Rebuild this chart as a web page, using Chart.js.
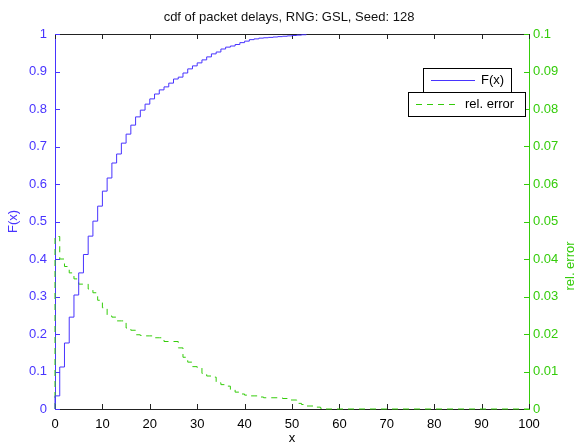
<!DOCTYPE html>
<html>
<head>
<meta charset="utf-8">
<script src="https://cdn.jsdelivr.net/npm/chart.js@4.4.0/dist/chart.umd.min.js"></script>
<style>
  body { margin: 0; background: #fff; }
  canvas { display: block; }
</style>
</head>
<body>
<canvas id="myChart" width="578" height="446"></canvas>
<script>
// values (stairs: value holds from x until the next x)
var cdfX = [0, 0, 1, 2, 3, 4, 5, 6, 7, 8, 9, 10, 11, 12, 13, 14, 15, 16, 17, 18, 19, 20,
  21, 22, 23, 24, 25, 26, 27, 28, 29, 30, 31, 32, 33, 34, 35, 36, 37, 38, 39, 40,
  41, 42, 43, 44, 45, 46, 47, 48, 49, 50, 51, 52, 53];
var cdfF = [0, 0.035, 0.112, 0.176, 0.245, 0.304, 0.363, 0.412, 0.461, 0.501, 0.541, 0.581,
  0.616, 0.656, 0.68, 0.709, 0.733, 0.757, 0.779, 0.797, 0.813, 0.827,
  0.84, 0.851, 0.859, 0.869, 0.88, 0.885, 0.896, 0.907, 0.915, 0.923,
  0.931, 0.939, 0.947, 0.952, 0.96, 0.965, 0.968, 0.972, 0.977, 0.981,
  0.985, 0.987, 0.989, 0.99, 0.991, 0.992, 0.993, 0.994, 0.995, 0.996, 0.997, 0.998, 0.999];

var errX = [0, 0, 1, 2, 3, 4, 5, 6, 7, 8, 9, 10, 11, 12, 13, 14, 15, 16, 17, 18, 19, 20,
  21, 22, 23, 24, 25, 26, 27, 28, 29, 30, 31, 32, 33, 34, 35, 36, 37, 38, 39, 40,
  41, 42, 43, 44, 45, 46, 47, 48, 49, 50, 51, 52, 53, 54, 55, 56, 57, 100];
var errY = [0, 0.046, 0.040, 0.038, 0.0363, 0.0347, 0.0333, 0.0333, 0.032, 0.031, 0.029, 0.027,
  0.0248, 0.0245, 0.0235, 0.0235, 0.0216, 0.021, 0.0198, 0.0196, 0.0195, 0.0195,
  0.019, 0.019, 0.018, 0.018, 0.018, 0.0163, 0.0138, 0.0125, 0.0113, 0.011,
  0.0095, 0.0088, 0.0085, 0.007, 0.0065, 0.0061, 0.0052, 0.0045, 0.004, 0.0037,
  0.0035, 0.0035, 0.0032, 0.003, 0.003, 0.003, 0.003, 0.0028, 0.0024, 0.0024,
  0.0015, 0.0012, 0.0008, 0.0008, 0.0005, 0.0002, 0, 0];

var xTicks = [0, 10, 20, 30, 40, 50, 60, 70, 80, 90, 100];

var blue = 'rgb(72,52,255)';
var green = 'rgb(52,204,10)';
var dark = '#222';

function pts(xs, ys) {
  return xs.map(function (x, i) { return { x: x, y: ys[i] }; });
}

Chart.defaults.font.family = '"Liberation Sans", Arial, sans-serif';
Chart.defaults.font.size = 13;

// matlab style ticks pointing into the box, plus top border + right label
var boxTicks = {
  id: 'boxTicks',
  beforeDatasetsDraw: function (chart) {
    var ctx = chart.ctx, a = chart.chartArea;
    var sx = chart.scales.x, sy = chart.scales.y, sy2 = chart.scales.y2;
    ctx.save();
    ctx.lineWidth = 1;
    ctx.strokeStyle = dark;
    ctx.beginPath();
    ctx.moveTo(a.left, a.top + 0.5);
    ctx.lineTo(a.right, a.top + 0.5);
    sx.ticks.forEach(function (t) {
      var px = Math.round(sx.getPixelForValue(t.value)) + 0.5;
      ctx.moveTo(px, a.bottom);
      ctx.lineTo(px, a.bottom - 5);
      ctx.moveTo(px, a.top);
      ctx.lineTo(px, a.top + 5);
    });
    ctx.stroke();
    ctx.strokeStyle = blue;
    ctx.beginPath();
    sy.ticks.forEach(function (t) {
      var py = Math.round(sy.getPixelForValue(t.value)) + 0.5;
      ctx.moveTo(a.left, py);
      ctx.lineTo(a.left + 5, py);
    });
    ctx.stroke();
    ctx.strokeStyle = green;
    ctx.beginPath();
    sy2.ticks.forEach(function (t) {
      var py = Math.round(sy2.getPixelForValue(t.value)) + 0.5;
      ctx.moveTo(a.right, py);
      ctx.lineTo(a.right - 5, py);
    });
    ctx.stroke();
    ctx.restore();
  },
  afterDraw: function (chart) {
    var ctx = chart.ctx;
    ctx.save();
    ctx.fillStyle = green;
    ctx.font = '13px "Liberation Sans", Arial, sans-serif';
    ctx.textAlign = 'center';
    ctx.textBaseline = 'middle';
    ctx.translate(570, 266);
    ctx.rotate(-Math.PI / 2);
    ctx.fillText('rel. error', 0, 0);
    ctx.restore();
  }
};

// the two stacked legend boxes
var boxLegend = {
  id: 'boxLegend',
  afterDraw: function (chart) {
    var ctx = chart.ctx;
    var ds = chart.data.datasets;
    var boxes = [
      { x: 423, y: 68, w: 88, h: 24, lx1: 431, lx2: 475, tx: 481 },
      { x: 408, y: 92, w: 117, h: 24, lx1: 416, lx2: 457, tx: 465 }
    ];
    ctx.save();
    ctx.font = '13px "Liberation Sans", Arial, sans-serif';
    ctx.textBaseline = 'middle';
    boxes.forEach(function (b, i) {
      ctx.fillStyle = '#fff';
      ctx.fillRect(b.x, b.y, b.w, b.h);
      ctx.strokeStyle = '#000';
      ctx.lineWidth = 1;
      ctx.setLineDash([]);
      ctx.strokeRect(b.x + 0.5, b.y + 0.5, b.w, b.h);
      var cy = Math.round(b.y + b.h / 2) + 0.5;
      ctx.strokeStyle = ds[i].borderColor;
      ctx.setLineDash(ds[i].borderDash || []);
      ctx.beginPath();
      ctx.moveTo(b.lx1, cy);
      ctx.lineTo(b.lx2, cy);
      ctx.stroke();
      ctx.fillStyle = '#000';
      ctx.fillText(ds[i].label, b.tx, cy);
    });
    ctx.restore();
  }
};

var ctx = document.getElementById('myChart').getContext('2d');
var chart = new Chart(ctx, {
  type: 'line',
  data: {
    datasets: [{
      label: 'F(x)',
      data: pts(cdfX, cdfF),
      yAxisID: 'y',
      borderColor: blue,
      borderWidth: 1,
      stepped: true,
      pointRadius: 0,
      fill: false,
      clip: false
    }, {
      label: 'rel. error',
      data: pts(errX, errY),
      yAxisID: 'y2',
      borderColor: green,
      borderWidth: 1,
      borderDash: [6, 5],
      stepped: true,
      pointRadius: 0,
      fill: false,
      clip: false
    }]
  },
  options: {
    responsive: false,
    animation: false,
    devicePixelRatio: 1,
    layout: { padding: 0 },
    plugins: {
      legend: { display: false },
      tooltip: { enabled: false },
      title: {
        display: true,
        text: 'cdf of packet delays, RNG: GSL, Seed: 128',
        color: '#111',
        font: { size: 13, weight: 'normal' },
        padding: { top: 10, bottom: 8.4 }
      }
    },
    scales: {
      x: {
        type: 'linear',
        position: 'bottom',
        min: 0,
        max: 100,
        afterBuildTicks: function (s) { s.ticks = xTicks.map(function (v) { return { value: v }; }); },
        afterFit: function (s) { s.height = 37; },
        grid: { display: false, drawTicks: false },
        border: { display: true, color: dark, width: 1 },
        ticks: { color: '#000', padding: 8, maxRotation: 0, autoSkip: false },
        title: { display: true, text: 'x', color: '#000', padding: { top: 0, bottom: 0 } }
      },
      y: {
        position: 'left',
        min: 0,
        max: 1,
        afterFit: function (s) { s.width = 55; },
        grid: { display: false, drawTicks: false },
        border: { display: true, color: blue, width: 1 },
        ticks: {
          stepSize: 0.1, color: blue, padding: 8,
          callback: function (v) { return String(Math.round(v * 10) / 10); }
        },
        title: { display: true, text: 'F(x)', color: blue, padding: { top: 6, bottom: 0 } }
      },
      y2: {
        position: 'right',
        min: 0,
        max: 0.1,
        afterFit: function (s) { s.width = 49; },
        grid: { display: false, drawTicks: false },
        border: { display: true, color: green, width: 1 },
        ticks: {
          stepSize: 0.01, color: green, padding: 4,
          callback: function (v) { return String(Math.round(v * 100) / 100); }
        }
      }
    }
  },
  plugins: [boxTicks, boxLegend]
});
</script>
</body>
</html>
